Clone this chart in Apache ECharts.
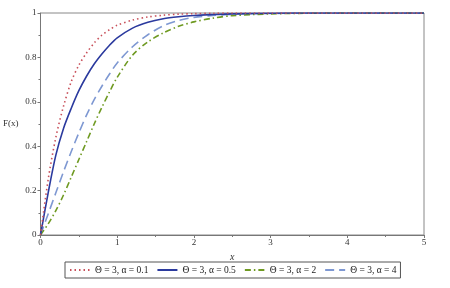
<!DOCTYPE html>
<html><head><meta charset="utf-8">
<script src="https://cdn.jsdelivr.net/npm/echarts@6/dist/echarts.min.js"></script>
<style>html,body{margin:0;padding:0;background:#fff}#c{width:450px;height:288px}</style>
</head><body><div id="c"></div>
<script>
const xs = [0, 0.1, 0.2, 0.3, 0.4, 0.5, 0.6, 0.7, 0.8, 0.9, 1.0, 1.2, 1.4, 1.6, 1.8, 2.0, 2.25, 2.5, 3.0, 3.5, 4.0, 4.5, 5.0];
const alpha01 = [0, 0.25, 0.44, 0.58, 0.69, 0.765, 0.82, 0.865, 0.90, 0.925, 0.945, 0.968, 0.982, 0.99, 0.995, 0.997, 0.999, 1, 1, 1, 1, 1, 1];
const alpha05 = [0, 0.19, 0.36, 0.48, 0.57, 0.65, 0.715, 0.77, 0.815, 0.855, 0.888, 0.932, 0.958, 0.974, 0.983, 0.989, 0.993, 0.996, 0.999, 1, 1, 1, 1];
const alpha2  = [0, 0.05, 0.11, 0.18, 0.26, 0.34, 0.42, 0.50, 0.575, 0.645, 0.71, 0.81, 0.87, 0.91, 0.94, 0.96, 0.977, 0.988, 0.996, 0.999, 1, 1, 1];
const alpha4  = [0, 0.095, 0.19, 0.285, 0.375, 0.46, 0.54, 0.61, 0.67, 0.725, 0.775, 0.848, 0.902, 0.942, 0.966, 0.98, 0.989, 0.994, 0.998, 1, 1, 1, 1];
const names = ['Θ = 3, α = 0.1', 'Θ = 3, α = 0.5', 'Θ = 3, α = 2', 'Θ = 3, α = 4'];
const colors = ['#c8505a', '#2b3a9e', '#6f9a22', '#7e98d2'];
const dashes = [[1.5, 3], 'solid', [6, 3, 1.5, 3], [9, 5]];
const values = [alpha01, alpha05, alpha2, alpha4];

const font = 'Liberation Serif';
const chart = echarts.init(document.getElementById('c'), null, {renderer: 'canvas'});
const series = values.map((v, i) => ({
  name: names[i],
  type: 'line',
  data: xs.map((x, j) => [x, v[j]]),
  smooth: 0.3,
  symbol: 'none',
  showSymbol: false,
  lineStyle: {color: colors[i], width: 1.6, type: dashes[i]},
  itemStyle: {color: colors[i]},
  z: 10 - i
}));
chart.setOption({
  animation: false,
  backgroundColor: '#fff',
  grid: {left: 36, right: 26, top: 13, bottom: 53, show: true, borderColor: '#888', borderWidth: 1},
  xAxis: {
    type: 'value', min: 0, max: 5, interval: 1,
    name: 'x', nameLocation: 'middle', nameGap: 9,
    nameTextStyle: {fontFamily: font, fontStyle: 'italic', fontSize: 10, color: '#333'},
    axisLine: {lineStyle: {color: '#777'}},
    axisTick: {show: true, length: 3, lineStyle: {color: '#777'}},
    minorTick: {show: true, splitNumber: 2, length: 2, lineStyle: {color: '#777'}},
    splitLine: {show: false},
    axisLabel: {fontFamily: font, fontSize: 9, color: '#333', margin: 3}
  },
  yAxis: {
    type: 'value', min: 0, max: 1, interval: 0.2,
    name: 'F(x)', nameLocation: 'middle', nameRotate: 0, nameGap: 22,
    nameTextStyle: {fontFamily: font, fontSize: 9, color: '#333'},
    axisLine: {show: true, lineStyle: {color: '#777'}},
    axisTick: {show: true, length: 3, lineStyle: {color: '#777'}},
    minorTick: {show: true, splitNumber: 2, length: 2, lineStyle: {color: '#777'}},
    splitLine: {show: false},
    axisLabel: {fontFamily: font, fontSize: 9, color: '#333', margin: 4}
  },
  legend: {
    data: names, left: 65, top: 262, orient: 'horizontal',
    itemWidth: 20, itemHeight: 8, itemGap: 8,
    itemStyle: {opacity: 0},
    borderColor: '#555', borderWidth: 1, padding: [3, 4],
    textStyle: {fontFamily: font, fontSize: 9.5, color: '#222'}
  },
  series: series
});
</script></body></html>
